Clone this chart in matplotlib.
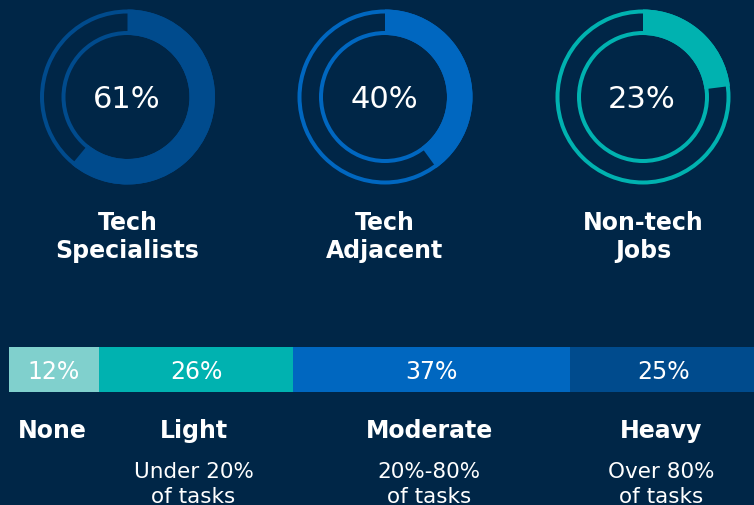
import matplotlib
matplotlib.use("Agg")
import matplotlib.pyplot as plt
from matplotlib.patches import Wedge

# ---- data ----
donut_labels = ["Tech\nSpecialists", "Tech\nAdjacent", "Non-tech\nJobs"]
donut_values = [61, 40, 23]
donut_colors = ["#004b8d", "#0067c0", "#00b2b0"]

bar_categories = ["None", "Light", "Moderate", "Heavy"]
bar_values = [12, 26, 37, 25]
bar_colors = ["#80d0cd", "#00b2b0", "#0067c0", "#004b8d"]
bar_sublabels = ["", "Under 20%\nof tasks", "20%-80%\nof tasks", "Over 80%\nof tasks"]

BG = "#002647"
W, H = 754, 506

fig = plt.figure(figsize=(W / 100, H / 100), dpi=100, facecolor=BG)
ax = fig.add_axes([0, 0, 1, 1])
ax.set_facecolor(BG)
ax.set_xlim(0, W)
ax.set_ylim(0, H)
ax.axis("off")

def Y(py):
    return H - py

# ---- donuts ----
centers_x = [127.5, 385, 643]
cy = 98
r_out, r_in = 87.5, 62
ring_w = 4
for cx, val, col, lab in zip(centers_x, donut_values, donut_colors, donut_labels):
    ax.add_patch(Wedge((cx, Y(cy)), r_out, 0, 360, width=ring_w, color=col, lw=0))
    ax.add_patch(Wedge((cx, Y(cy)), r_in + ring_w, 0, 360, width=ring_w, color=col, lw=0))
    theta2 = 90
    theta1 = 90 - 360 * val / 100
    ax.add_patch(Wedge((cx, Y(cy)), r_out, theta1, theta2, width=r_out - r_in, color=col, lw=0))
    ax.text(cx - 1, Y(cy + 1), f"{val}%", color="white", fontsize=22,
            ha="center", va="center")
    ax.text(cx, Y(237), lab, color="white", fontsize=17, fontweight="bold",
            ha="center", va="center", linespacing=1.2)

# ---- stacked bar ----
x0, x1 = 9, 757
bar_top, bar_bot = 348, 393
scale = (x1 - x0) / sum(bar_values)
left = x0
for val, col, cat, sub in zip(bar_values, bar_colors, bar_categories, bar_sublabels):
    w = val * scale
    ax.barh(Y((bar_top + bar_bot) / 2), w, height=bar_bot - bar_top, left=left,
            color=col, lw=0)
    mid = left + w / 2
    ax.text(mid, Y(372), f"{val}%", color="white", fontsize=17,
            ha="center", va="center")
    ax.text(mid - 2, Y(431), cat, color="white", fontsize=17, fontweight="bold",
            ha="center", va="center")
    if sub:
        for i, line in enumerate(sub.split("\n")):
            ax.text(mid - 2.5, Y(472 + 25 * i), line, color="white", fontsize=15.5,
                    ha="center", va="center")
    left += w

fig.savefig("out.png", dpi=100, facecolor=BG)
